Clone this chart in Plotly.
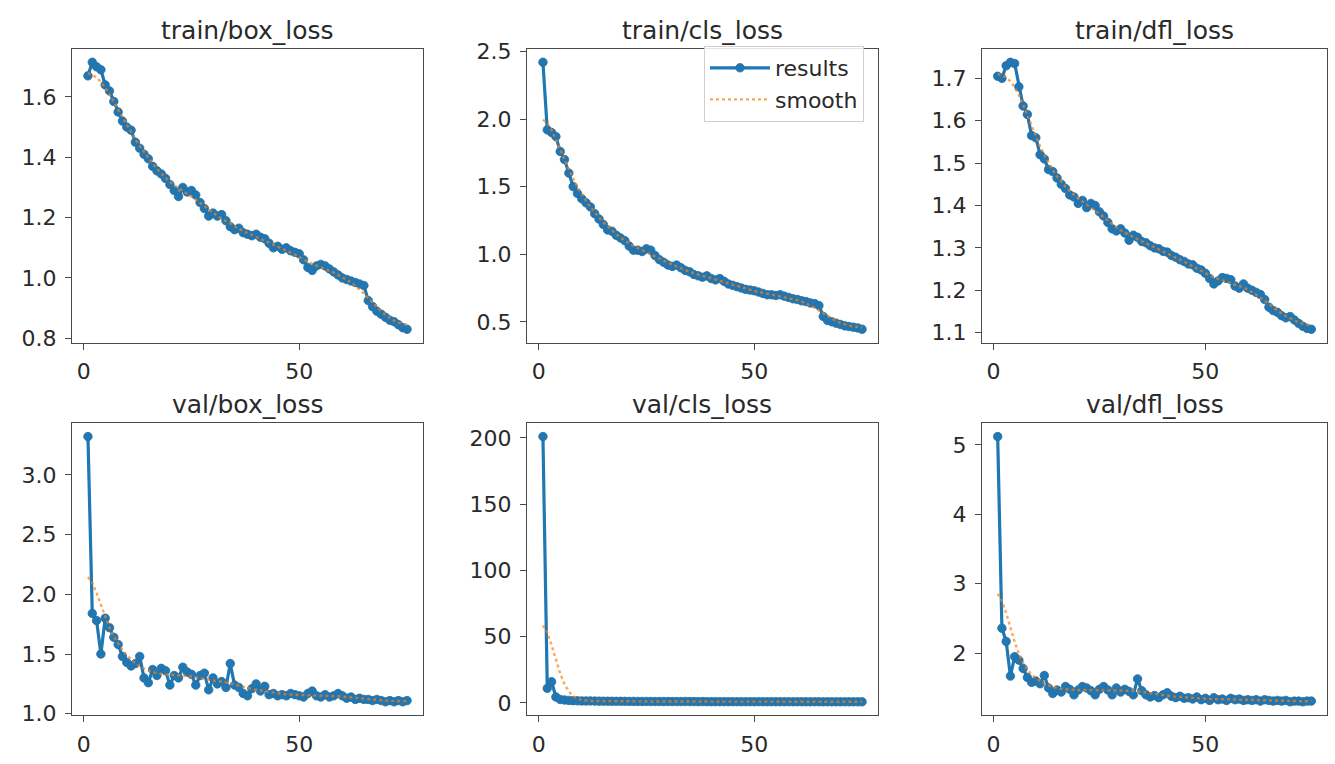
import numpy as np
import plotly.graph_objects as go

# ---------------- data ----------------
epochs = list(range(1, 76))

train_box_loss = [1.670, 1.715, 1.700, 1.690, 1.640, 1.620, 1.585, 1.550, 1.520, 1.500,
                  1.490, 1.450, 1.430, 1.410, 1.395, 1.370, 1.355, 1.345, 1.330, 1.310,
                  1.290, 1.270, 1.300, 1.285, 1.290, 1.275, 1.250, 1.230, 1.205, 1.215,
                  1.205, 1.210, 1.190, 1.170, 1.160, 1.165, 1.150, 1.145, 1.140, 1.145,
                  1.135, 1.130, 1.115, 1.100, 1.105, 1.095, 1.100, 1.090, 1.085, 1.080,
                  1.060, 1.035, 1.025, 1.040, 1.045, 1.040, 1.030, 1.020, 1.010, 1.000,
                  0.995, 0.990, 0.985, 0.980, 0.975, 0.925, 0.905, 0.890, 0.880, 0.870,
                  0.860, 0.855, 0.845, 0.835, 0.830]

train_cls_loss = [2.42, 1.92, 1.90, 1.87, 1.76, 1.70, 1.60, 1.50, 1.45, 1.41,
                  1.38, 1.35, 1.30, 1.26, 1.22, 1.18, 1.17, 1.14, 1.12, 1.10,
                  1.06, 1.03, 1.03, 1.02, 1.04, 1.03, 0.99, 0.96, 0.94, 0.92,
                  0.91, 0.92, 0.90, 0.88, 0.87, 0.85, 0.84, 0.83, 0.84, 0.82,
                  0.81, 0.82, 0.80, 0.78, 0.77, 0.76, 0.75, 0.74, 0.735, 0.73,
                  0.72, 0.71, 0.70, 0.70, 0.695, 0.70, 0.69, 0.68, 0.67, 0.665,
                  0.655, 0.65, 0.64, 0.635, 0.62, 0.54, 0.51, 0.50, 0.49, 0.48,
                  0.47, 0.465, 0.46, 0.455, 0.445]

train_dfl_loss = [1.705, 1.700, 1.730, 1.738, 1.735, 1.680, 1.635, 1.615, 1.565, 1.560,
                  1.520, 1.510, 1.485, 1.480, 1.465, 1.450, 1.440, 1.425, 1.420, 1.405,
                  1.412, 1.395, 1.405, 1.400, 1.385, 1.375, 1.360, 1.345, 1.340, 1.345,
                  1.335, 1.318, 1.330, 1.325, 1.315, 1.312, 1.305, 1.300, 1.298, 1.292,
                  1.290, 1.282, 1.278, 1.272, 1.268, 1.262, 1.260, 1.252, 1.248, 1.240,
                  1.228, 1.215, 1.222, 1.230, 1.228, 1.225, 1.210, 1.205, 1.215, 1.205,
                  1.200, 1.195, 1.190, 1.178, 1.160, 1.152, 1.148, 1.140, 1.135, 1.138,
                  1.130, 1.122, 1.115, 1.110, 1.108]

val_box_loss = [3.32, 1.84, 1.78, 1.50, 1.80, 1.72, 1.64, 1.58, 1.48, 1.43,
                1.40, 1.42, 1.48, 1.30, 1.26, 1.37, 1.32, 1.38, 1.36, 1.24,
                1.32, 1.30, 1.39, 1.35, 1.33, 1.24, 1.32, 1.34, 1.20, 1.30,
                1.25, 1.27, 1.22, 1.42, 1.24, 1.22, 1.17, 1.15, 1.21, 1.25,
                1.19, 1.23, 1.16, 1.17, 1.15, 1.16, 1.15, 1.17, 1.16, 1.15,
                1.14, 1.17, 1.19, 1.15, 1.14, 1.16, 1.14, 1.15, 1.17, 1.15,
                1.13, 1.14, 1.12, 1.13, 1.12, 1.12, 1.11, 1.12, 1.11, 1.10,
                1.11, 1.10, 1.11, 1.10, 1.11]

val_cls_loss = [201.0, 11.0, 16.0, 4.5, 2.6, 2.2, 1.9, 1.7, 1.6, 1.5,
                1.45, 1.5, 1.4, 1.35, 1.3, 1.32, 1.25, 1.2, 1.22, 1.18,
                1.15, 1.17, 1.12, 1.1, 1.12, 1.08, 1.06, 1.07, 1.04, 1.05,
                1.02, 1.03, 1.0, 1.08, 1.0, 0.99, 0.98, 0.99, 0.97, 0.98,
                0.96, 0.97, 0.95, 0.95, 0.94, 0.95, 0.93, 0.94, 0.93, 0.92,
                0.93, 0.92, 0.91, 0.92, 0.91, 0.90, 0.91, 0.90, 0.90, 0.89,
                0.90, 0.89, 0.88, 0.89, 0.88, 0.87, 0.87, 0.86, 0.86, 0.86,
                0.85, 0.85, 0.85, 0.84, 0.84]

val_dfl_loss = [5.12, 2.36, 2.17, 1.67, 1.95, 1.90, 1.78, 1.65, 1.58, 1.60,
                1.56, 1.68, 1.50, 1.42, 1.47, 1.44, 1.52, 1.48, 1.40, 1.47,
                1.52, 1.50, 1.46, 1.40, 1.48, 1.52, 1.47, 1.40, 1.50, 1.44,
                1.48, 1.45, 1.40, 1.63, 1.46, 1.40, 1.37, 1.39, 1.36, 1.40,
                1.43, 1.38, 1.36, 1.38, 1.35, 1.36, 1.34, 1.37, 1.33, 1.35,
                1.32, 1.36, 1.33, 1.34, 1.32, 1.35, 1.33, 1.34, 1.32, 1.33,
                1.32, 1.33, 1.31, 1.33, 1.32, 1.31, 1.32, 1.31, 1.32, 1.30,
                1.31, 1.31, 1.30, 1.31, 1.31]

titles = ["train/box_loss", "train/cls_loss", "train/dfl_loss",
          "val/box_loss", "val/cls_loss", "val/dfl_loss"]
series = [train_box_loss, train_cls_loss, train_dfl_loss,
          val_box_loss, val_cls_loss, val_dfl_loss]
y_tickvals = [[0.8, 1.0, 1.2, 1.4, 1.6],
              [0.5, 1.0, 1.5, 2.0, 2.5],
              [1.1, 1.2, 1.3, 1.4, 1.5, 1.6, 1.7],
              [1.0, 1.5, 2.0, 2.5, 3.0],
              [0, 50, 100, 150, 200],
              [2, 3, 4, 5]]
y_ticktext = [["0.8", "1.0", "1.2", "1.4", "1.6"],
              ["0.5", "1.0", "1.5", "2.0", "2.5"],
              ["1.1", "1.2", "1.3", "1.4", "1.5", "1.6", "1.7"],
              ["1.0", "1.5", "2.0", "2.5", "3.0"],
              ["0", "50", "100", "150", "200"],
              ["2", "3", "4", "5"]]
x_tickvals = [0, 50]
x_ticktext = ["0", "50"]
legend_names = ["results", "smooth"]


def gaussian_smooth(y, sigma=3.0):
    y = np.asarray(y, dtype=float)
    radius = int(4 * sigma + 0.5)
    k = np.arange(-radius, radius + 1)
    w = np.exp(-0.5 * (k / sigma) ** 2)
    w /= w.sum()
    yp = np.pad(y, radius, mode="symmetric")
    return np.convolve(yp, w, mode="valid")


# ---------------- layout geometry ----------------
W, H = 1335, 764
cols_px = [(72, 423), (527, 878), (982, 1327)]
rows_px = [(40, 342), (425, 725)]
title_y_px = [21, 406]

BLUE = "#1f77b4"
ORANGE = "#ff7f0e"
FONT = "DejaVu Sans"
TXT = "#2a2a2a"

fig = go.Figure()
layout = dict(
    width=W, height=H,
    margin=dict(l=0, r=0, t=0, b=0),
    paper_bgcolor="white", plot_bgcolor="white",
    font=dict(family=FONT, size=21, color=TXT),
    showlegend=True,
    legend=dict(
        x=864 / W, xanchor="right", y=(H - 37) / H, yanchor="top",
        bgcolor="rgba(255,255,255,0.85)", bordercolor="#cfcfcf", borderwidth=1,
        font=dict(family=FONT, size=22, color=TXT),
        itemwidth=60, tracegroupgap=0,
    ),
    annotations=[],
)

xs = np.array(epochs, dtype=float)
for i, (ttl, ys) in enumerate(zip(titles, series)):
    r, c = divmod(i, 3)
    n = i + 1
    xa = "x" if n == 1 else f"x{n}"
    ya = "y" if n == 1 else f"y{n}"
    y = np.array(ys, dtype=float)
    ys_s = gaussian_smooth(y, 3)

    fig.add_trace(go.Scatter(
        x=xs, y=y, mode="lines+markers", name=legend_names[0],
        line=dict(color=BLUE, width=3.2),
        marker=dict(color=BLUE, size=8.5, symbol="circle",
                    line=dict(color="#2b6d9e", width=0.8)),
        xaxis=xa, yaxis=ya, showlegend=(i == 1), legendrank=1,
    ))
    fig.add_trace(go.Scatter(
        x=xs, y=ys_s, mode="lines", name=legend_names[1],
        line=dict(color=ORANGE, width=2.4, dash="dot"),
        opacity=0.7,
        xaxis=xa, yaxis=ya, showlegend=(i == 1), legendrank=2,
    ))

    # matplotlib-like 5% margins
    allx = xs
    ally = np.concatenate([y, ys_s])
    xr = allx.max() - allx.min()
    yr = ally.max() - ally.min()
    x_range = [allx.min() - 0.05 * xr, allx.max() + 0.05 * xr]
    y_range = [ally.min() - 0.05 * yr, ally.max() + 0.05 * yr]

    x0, x1 = cols_px[c]
    yt, yb = rows_px[r]
    axis_common = dict(
        showgrid=False, zeroline=False, showline=True, mirror=True,
        linecolor="#4a4a4a", linewidth=1.4,
        ticks="outside", ticklen=6, tickwidth=1.3, tickcolor="#4a4a4a",
        tickfont=dict(family=FONT, size=22, color=TXT),
    )
    layout["xaxis" if n == 1 else f"xaxis{n}"] = dict(
        axis_common, domain=[x0 / W, x1 / W], range=x_range, anchor=ya,
        tickvals=x_tickvals, ticktext=x_ticktext, ticklabelstandoff=3,
    )
    layout["yaxis" if n == 1 else f"yaxis{n}"] = dict(
        axis_common, domain=[(H - yb) / H, (H - yt) / H], range=y_range, anchor=xa,
        tickvals=y_tickvals[i], ticktext=y_ticktext[i], ticklabelstandoff=4,
    )
    layout["annotations"].append(dict(
        text=ttl, xref="paper", yref="paper",
        x=(x0 + x1) / 2 / W, y=(H - title_y_px[r]) / H,
        xanchor="center", yanchor="middle", showarrow=False,
        font=dict(family=FONT, size=25, color=TXT),
    ))

fig.update_layout(**layout)
fig.write_html("out.html")
